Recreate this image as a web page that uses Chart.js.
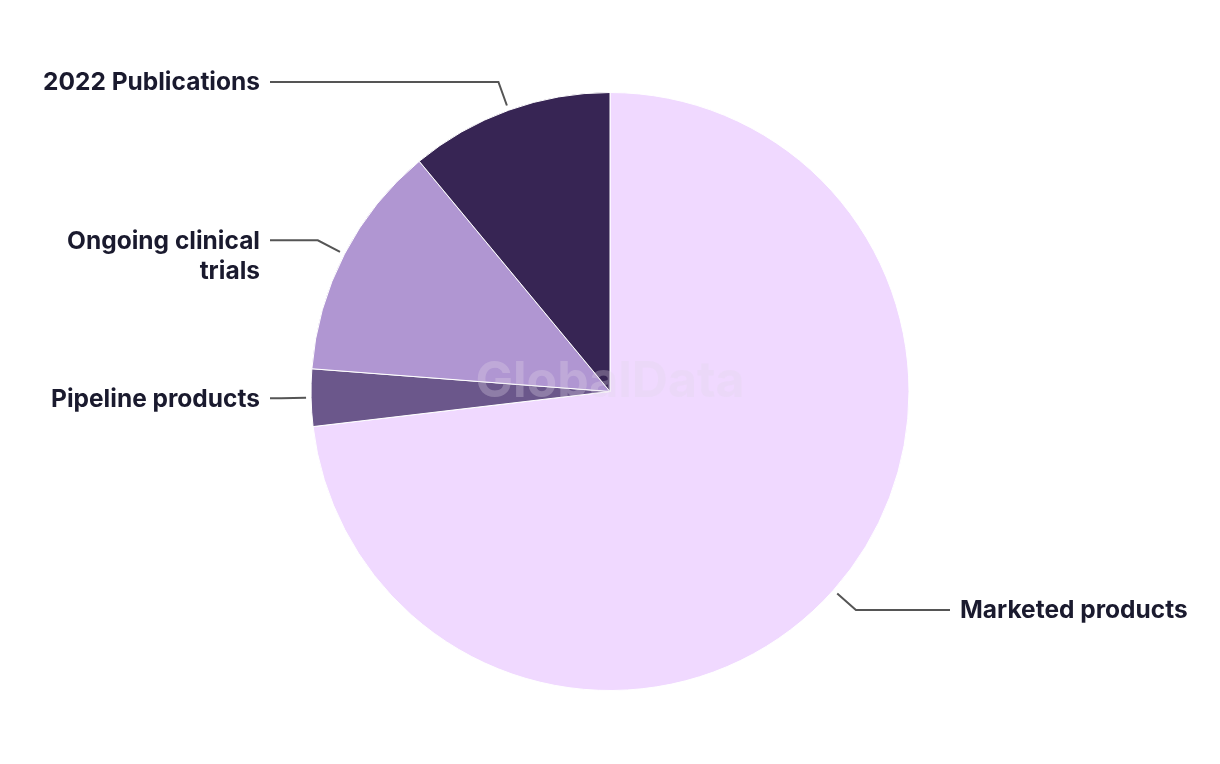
<!DOCTYPE html>
<html>
<head>
<meta charset="utf-8">
<script src="https://cdn.jsdelivr.net/npm/chart.js@4/dist/chart.umd.min.js"></script>
<style>
  html, body { margin: 0; padding: 0; background: #fff; }
  #wrap { width: 1220px; height: 764px; position: relative; }
</style>
</head>
<body>
<div id="wrap"><canvas id="chart-pie"></canvas></div>
<script>
// slices, clockwise from 12 o'clock
const categories = ["Marketed products", "Pipeline products", "Ongoing clinical trials", "2022 Publications"];
const labelLines = [["Marketed products"], ["Pipeline products"], ["Ongoing clinical", "trials"], ["2022 Publications"]];
const counts = [166, 7, 29, 25];
const sliceColors = ["#F0D9FF", "#6B578B", "#B096D2", "#372554"];

// leader lines + outside labels
const calloutPlugin = {
  id: "callouts",
  afterDatasetsDraw(chart) {
    const { ctx } = chart;
    const arcs = chart.getDatasetMeta(0).data;
    ctx.save();
    // faint watermark
    ctx.font = "700 50px Inter, 'Noto Sans', sans-serif";
    ctx.fillStyle = "rgba(225, 215, 232, 0.3)";
    ctx.textAlign = "center";
    ctx.textBaseline = "middle";
    ctx.fillText("GlobalData", arcs[0].x, arcs[0].y - 10);

    arcs.forEach((arc, i) => {
      const mid = (arc.startAngle + arc.endAngle) / 2;
      const r = arc.outerRadius;
      const cos = Math.cos(mid), sin = Math.sin(mid);
      const x1 = arc.x + cos * (r + 5), y1 = arc.y + sin * (r + 5);
      const x2 = arc.x + cos * (r + 30), y2 = arc.y + sin * (r + 30);
      const right = cos >= 0;
      const x3 = right ? 950 : 270;
      ctx.strokeStyle = "#555555";
      ctx.lineWidth = 2;
      ctx.beginPath();
      ctx.moveTo(x1, y1);
      ctx.lineTo(x2, y2);
      ctx.lineTo(x3, y2);
      ctx.stroke();

      ctx.font = "700 24.5px Inter, 'Noto Sans', sans-serif";
      ctx.fillStyle = "#1A1A2E";
      ctx.textAlign = right ? "left" : "right";
      ctx.textBaseline = "middle";
      const tx = right ? 960 : 260;
      labelLines[i].forEach((line, j) => {
        ctx.fillText(line, tx, y2 + 1 + j * 30);
      });
    });
    ctx.restore();
  },
};

new Chart(document.getElementById("chart-pie"), {
  type: "pie",
  data: {
    labels: categories,
    datasets: [{
      data: counts,
      backgroundColor: sliceColors,
      borderColor: "#ffffff",
      borderWidth: 1,
    }],
  },
  options: {
    responsive: true,
    maintainAspectRatio: false,
    animation: false,
    layout: { padding: { top: 92, bottom: 73, left: 0, right: 0 } },
    plugins: {
      legend: { display: false },
      tooltip: { enabled: false },
    },
  },
  plugins: [calloutPlugin],
});
</script>
</body>
</html>
